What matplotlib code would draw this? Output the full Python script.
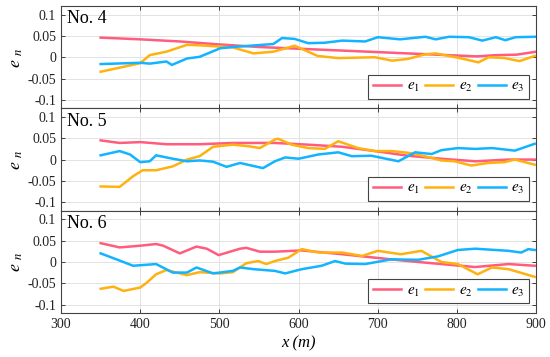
import matplotlib
matplotlib.use("Agg")
import matplotlib.pyplot as plt

plt.rcParams["font.family"] = ["Liberation Serif", "DejaVu Serif"]
plt.rcParams["mathtext.fontset"] = "stix"
plt.rcParams["axes.unicode_minus"] = False

colors = ["#FF5C7E", "#FFB20F", "#12B4FF"]
names = ["$e_1$", "$e_2$", "$e_3$"]
panel_labels = ["No. 4", "No. 5", "No. 6"]

# No. 4
x4_e1 = [350, 400, 450, 500, 550, 600, 650, 700, 750, 800, 825, 850, 875, 900]
y4_e1 = [0.046, 0.042, 0.037, 0.030, 0.024, 0.020, 0.016, 0.012, 0.008, 0.004, 0.002, 0.005, 0.006, 0.013]
x4_e2 = [350, 370, 400, 412, 433, 459, 475, 517, 543, 568, 595, 624, 650, 696, 718, 738, 760, 773, 801, 827, 840, 860, 879, 898]
y4_e2 = [-0.034, -0.026, -0.014, 0.005, 0.013, 0.029, 0.028, 0.023, 0.009, 0.013, 0.027, 0.003, -0.002, 0.0, -0.008, -0.004, 0.007, 0.009, -0.001, -0.012, 0.0, -0.002, -0.009, 0.003]
x4_e3 = [350, 400, 412, 433, 440, 459, 475, 501, 517, 568, 579, 595, 612, 633, 655, 684, 700, 728, 760, 773, 790, 815, 832, 849, 861, 874, 898]
y4_e3 = [-0.016, -0.013, -0.015, -0.010, -0.018, -0.003, 0.001, 0.021, 0.024, 0.031, 0.045, 0.043, 0.033, 0.034, 0.039, 0.037, 0.047, 0.042, 0.048, 0.042, 0.048, 0.047, 0.039, 0.047, 0.040, 0.047, 0.048]

# No. 5
x5_e1 = [350, 374, 400, 433, 475, 517, 570, 612, 655, 696, 738, 780, 823, 865, 898]
y5_e1 = [0.045, 0.039, 0.041, 0.036, 0.036, 0.039, 0.039, 0.035, 0.030, 0.020, 0.009, 0.002, -0.004, 0.0, 0.0]
x5_e2 = [350, 374, 391, 403, 420, 441, 459, 475, 492, 517, 538, 551, 570, 574, 591, 612, 633, 650, 675, 696, 717, 738, 759, 780, 797, 818, 839, 860, 873, 898]
y5_e2 = [-0.063, -0.064, -0.039, -0.025, -0.025, -0.016, 0.0, 0.008, 0.030, 0.035, 0.031, 0.027, 0.047, 0.049, 0.035, 0.027, 0.025, 0.043, 0.027, 0.020, 0.020, 0.016, 0.008, -0.002, -0.004, -0.014, -0.008, -0.006, 0.0, -0.012]
x5_e3 = [350, 374, 387, 400, 412, 420, 441, 459, 475, 492, 509, 526, 555, 570, 583, 600, 625, 650, 667, 692, 705, 726, 747, 768, 780, 801, 823, 844, 873, 898]
y5_e3 = [0.010, 0.020, 0.012, -0.006, -0.004, 0.010, 0.002, -0.004, -0.002, -0.005, -0.017, -0.008, -0.020, -0.004, 0.005, 0.002, 0.012, 0.017, 0.008, 0.009, 0.004, -0.004, 0.017, 0.013, 0.022, 0.027, 0.025, 0.027, 0.021, 0.037]

# No. 6
x6_e1 = [350, 374, 400, 420, 429, 450, 471, 484, 499, 526, 534, 551, 570, 604, 655, 696, 738, 780, 823, 865, 898]
y6_e1 = [0.044, 0.034, 0.038, 0.042, 0.038, 0.020, 0.036, 0.031, 0.016, 0.031, 0.033, 0.024, 0.024, 0.027, 0.018, 0.010, 0.002, -0.005, -0.012, -0.005, -0.009]
x6_e2 = [350, 366, 379, 400, 408, 420, 433, 459, 475, 501, 517, 534, 549, 559, 570, 587, 604, 625, 655, 680, 700, 729, 755, 780, 801, 826, 844, 865, 898]
y6_e2 = [-0.063, -0.058, -0.068, -0.060, -0.049, -0.029, -0.019, -0.031, -0.024, -0.027, -0.024, -0.003, 0.002, -0.005, 0.002, 0.010, 0.030, 0.022, 0.022, 0.014, 0.026, 0.018, 0.026, 0.0, -0.005, -0.029, -0.013, -0.017, -0.035]
x6_e3 = [350, 370, 391, 420, 441, 459, 471, 492, 517, 526, 543, 570, 583, 604, 629, 646, 659, 684, 717, 751, 776, 801, 823, 865, 881, 890, 898]
y6_e3 = [0.020, 0.006, -0.009, -0.005, -0.025, -0.025, -0.013, -0.027, -0.021, -0.013, -0.017, -0.021, -0.027, -0.017, -0.009, 0.002, -0.004, -0.005, 0.006, 0.005, 0.013, 0.028, 0.031, 0.026, 0.022, 0.030, 0.028]

panels = [
    [(x4_e1, y4_e1), (x4_e2, y4_e2), (x4_e3, y4_e3)],
    [(x5_e1, y5_e1), (x5_e2, y5_e2), (x5_e3, y5_e3)],
    [(x6_e1, y6_e1), (x6_e2, y6_e2), (x6_e3, y6_e3)],
]

yticks = [-0.1, -0.05, 0, 0.05, 0.1]
ytick_labels = ["-0.1", "-0.05", "0", "0.05", "0.1"]
xticks = [300, 400, 500, 600, 700, 800, 900]

fig, axes = plt.subplots(3, 1, figsize=(5.5, 3.57), dpi=100, sharex=True)
fig.subplots_adjust(left=0.111, right=0.975, top=0.983, bottom=0.123, hspace=0)

for ax, series, lab in zip(axes, panels, panel_labels):
    for (xs, ys), c, n in zip(series, colors, names):
        ax.plot(xs, ys, color=c, lw=1.8, label=n)
    ax.set_xlim(300, 900)
    ax.set_ylim(-0.12, 0.12)
    ax.set_yticks(yticks)
    ax.set_yticklabels(ytick_labels)
    ax.set_xticks(xticks)
    ax.grid(True, color="#e3e3e3", lw=0.7)
    ax.tick_params(direction="in", top=True, right=True, labelsize=10,
                   colors="#222222", length=3, width=0.6)
    for s in ax.spines.values():
        s.set_color("#444444")
        s.set_linewidth(0.8)
    ax.set_ylabel("$e\\ _n$", fontsize=13, labelpad=2)
    ax.text(0.012, 0.96, lab, transform=ax.transAxes, ha="left", va="top", fontsize=13)
    leg = ax.legend(loc="lower right", ncol=3, fontsize=11, handlelength=1.85,
                    columnspacing=0.35, handletextpad=0.35, borderpad=0.3,
                    borderaxespad=0.3, fancybox=False, framealpha=1,
                    bbox_to_anchor=(0.995, 0.05))
    leg.get_frame().set_edgecolor("#444444")
    leg.get_frame().set_linewidth(0.8)

axes[-1].set_xlabel("x (m)", fontstyle="italic", fontsize=12, labelpad=3)
for ax in axes[:-1]:
    ax.tick_params(labelbottom=False)

fig.savefig("out.png", dpi=100)
